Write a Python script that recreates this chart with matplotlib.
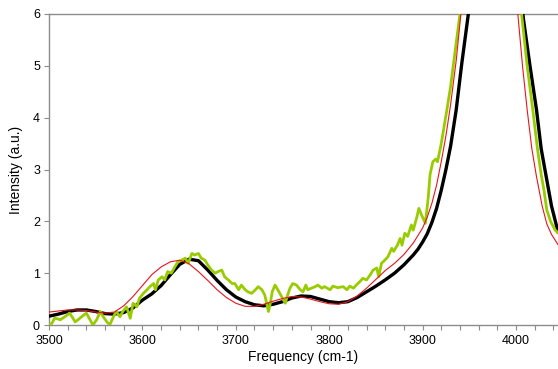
import matplotlib
matplotlib.use("Agg")
import matplotlib.pyplot as plt
from matplotlib.ticker import MultipleLocator

plt.rcParams['font.family'] = ['Liberation Sans', 'DejaVu Sans']

# ---- data ----
black_x = [3500, 3510, 3520, 3530, 3540, 3550, 3560, 3570, 3580, 3590, 3600, 3610, 3620, 3630,
           3640, 3650, 3660, 3670, 3680, 3690, 3700, 3710, 3720, 3730, 3740, 3750, 3760, 3770,
           3780, 3790, 3800, 3810, 3820, 3830, 3840, 3850, 3860, 3870, 3880, 3890, 3895, 3900,
           3905, 3910, 3915, 3920, 3925, 3930, 3936, 3942, 3949, 3960, 3970, 3980, 3990, 4000,
           4008, 4015, 4022, 4027, 4033, 4038, 4045]
black_y = [0.17, 0.21, 0.26, 0.29, 0.29, 0.26, 0.22, 0.21, 0.24, 0.33, 0.48, 0.60, 0.76, 0.97,
           1.17, 1.27, 1.24, 1.06, 0.86, 0.68, 0.54, 0.45, 0.39, 0.37, 0.40, 0.45, 0.52, 0.56,
           0.55, 0.50, 0.45, 0.43, 0.45, 0.53, 0.64, 0.75, 0.87, 1.00, 1.16, 1.35, 1.46, 1.60,
           1.76, 1.98, 2.25, 2.60, 3.00, 3.45, 4.15, 5.05, 6.00, 7.80, 9.00, 9.30, 8.50, 7.20,
           5.90, 5.00, 4.15, 3.40, 2.80, 2.30, 1.80]

red_x = [3500, 3510, 3520, 3530, 3540, 3550, 3560, 3570, 3580, 3590, 3600, 3610, 3620, 3630,
         3640, 3650, 3660, 3670, 3680, 3690, 3700, 3710, 3720, 3730, 3740, 3750, 3760, 3770,
         3780, 3790, 3800, 3810, 3820, 3830, 3840, 3850, 3860, 3870, 3880, 3890, 3900, 3905,
         3910, 3915, 3920, 3925, 3930, 3936, 3941, 3950, 3960, 3970, 3980, 3990, 4002, 4007,
         4012, 4017, 4022, 4028, 4033, 4038, 4045]
red_y = [0.25, 0.27, 0.29, 0.29, 0.28, 0.25, 0.23, 0.25, 0.37, 0.55, 0.76, 0.97, 1.12, 1.22,
         1.25, 1.18, 1.03, 0.86, 0.68, 0.53, 0.42, 0.36, 0.36, 0.40, 0.46, 0.51, 0.55, 0.54,
         0.50, 0.45, 0.41, 0.40, 0.45, 0.56, 0.71, 0.88, 1.05, 1.19, 1.36, 1.58, 1.87, 2.08,
         2.35, 2.70, 3.15, 3.65, 4.25, 5.10, 6.00, 7.60, 9.00, 9.60, 9.40, 8.30, 6.00, 5.00,
         4.15, 3.40, 2.86, 2.30, 1.95, 1.75, 1.55]

green_x = [3500, 3503, 3506, 3509, 3512, 3517, 3522, 3525, 3528, 3531, 3535, 3540, 3544, 3547,
           3551, 3555, 3558, 3562, 3565, 3569, 3572, 3576, 3579, 3583, 3587, 3590, 3594, 3597,
           3601, 3605, 3608, 3612, 3614, 3617, 3621, 3624, 3627, 3631, 3635, 3638, 3642, 3646,
           3649, 3653, 3656, 3660, 3663, 3667, 3670, 3674, 3678, 3681, 3685, 3688, 3692, 3696,
           3699, 3703, 3706, 3710, 3713, 3717, 3721, 3724, 3728, 3731, 3733, 3735, 3737, 3739,
           3742, 3745, 3749, 3753, 3755, 3758, 3761, 3765, 3769, 3772, 3775, 3777, 3781, 3785,
           3788, 3792, 3795, 3801, 3804, 3809, 3815, 3819, 3822, 3826, 3829, 3833, 3836, 3840,
           3844, 3847, 3851, 3853, 3856, 3860, 3863, 3867, 3869, 3873, 3876, 3878, 3881, 3884,
           3888, 3890, 3894, 3896, 3899, 3903, 3906, 3908, 3911, 3914, 3916, 3920, 3926, 3930,
           3935, 3940, 3950, 3960, 3975, 3990, 4000, 4006, 4012, 4018, 4023, 4027, 4030, 4033,
           4037, 4042, 4045]
green_y = [0.00, 0.03, 0.13, 0.12, 0.10, 0.16, 0.23, 0.15, 0.06, 0.10, 0.16, 0.23, 0.10, 0.00,
           0.10, 0.26, 0.16, 0.06, 0.00, 0.16, 0.26, 0.16, 0.26, 0.35, 0.13, 0.42, 0.35, 0.52,
           0.61, 0.68, 0.74, 0.80, 0.68, 0.87, 0.93, 0.87, 1.03, 1.00, 1.13, 1.22, 1.25, 1.29,
           1.19, 1.38, 1.35, 1.38, 1.29, 1.25, 1.16, 1.06, 1.00, 1.03, 1.06, 0.93, 0.87, 0.80,
           0.80, 0.68, 0.77, 0.68, 0.64, 0.61, 0.68, 0.74, 0.68, 0.58, 0.42, 0.26, 0.42, 0.64,
           0.77, 0.68, 0.55, 0.42, 0.55, 0.71, 0.80, 0.77, 0.68, 0.64, 0.77, 0.68, 0.71, 0.74,
           0.77, 0.71, 0.74, 0.68, 0.75, 0.72, 0.74, 0.68, 0.75, 0.71, 0.77, 0.84, 0.90, 0.87,
           0.97, 1.06, 1.10, 0.93, 1.19, 1.26, 1.32, 1.48, 1.42, 1.54, 1.67, 1.54, 1.77, 1.71,
           1.93, 1.83, 2.09, 2.25, 2.12, 1.96, 2.45, 2.90, 3.15, 3.20, 3.15, 3.50, 4.15, 4.60,
           5.30, 6.00, 7.80, 9.20, 9.80, 8.60, 7.00, 6.00, 5.00, 4.15, 3.40, 2.90, 2.60, 2.22,
           2.00, 1.83, 1.78]

x_ticks = [3500, 3600, 3700, 3800, 3900, 4000]
y_ticks = [0, 1, 2, 3, 4, 5, 6]

# ---- plot ----
fig = plt.figure(figsize=(5.58, 3.69), dpi=100)
ax = fig.add_axes([49/558, 1-325/369, 1-49/558, (325-14)/369])

ax.plot(black_x, black_y, color='black', lw=2.4, zorder=3, solid_joinstyle='round')
ax.plot(green_x, green_y, color='#99CC00', lw=2.0, zorder=4, solid_joinstyle='round')
ax.plot(red_x, red_y, color='#E8141B', lw=0.8, zorder=5)

ax.set_xlim(3500, 4045)
ax.set_ylim(0, 6)
ax.set_xticks(x_ticks)
ax.set_yticks(y_ticks)
ax.xaxis.set_minor_locator(MultipleLocator(20))

for s in ['left', 'bottom', 'top']:
    ax.spines[s].set_color('#8c8c8c')
    ax.spines[s].set_linewidth(1.0)
ax.spines['right'].set_visible(False)

ax.tick_params(axis='x', which='both', direction='out', length=3.5, width=0.8,
               color='#8c8c8c', labelsize=9, pad=4)
ax.tick_params(axis='y', which='both', direction='out', length=3.5, width=0.8,
               color='#8c8c8c', labelsize=9, pad=3)
ax.tick_params(top=False, right=False)

ax.set_xlabel('Frequency (cm-1)', fontsize=10, labelpad=2)
ax.set_ylabel('Intensity (a.u.)', fontsize=10, labelpad=7)

fig.savefig('out.png', dpi=100)
